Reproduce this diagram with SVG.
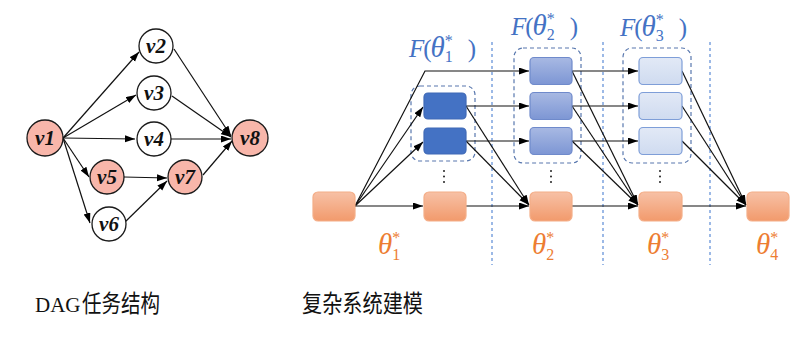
<svg xmlns="http://www.w3.org/2000/svg" width="800" height="339" viewBox="0 0 800 339">
<defs>
<marker id="ah" markerUnits="userSpaceOnUse" markerWidth="11" markerHeight="8" refX="10" refY="3.5" orient="auto">
<path d="M0,0 L10,3.5 L0,7 z" fill="#000"/>
</marker>
<linearGradient id="gOr" x1="0" y1="0" x2="0" y2="1">
<stop offset="0" stop-color="#F7C1A6"/><stop offset="1" stop-color="#F29A6C"/>
</linearGradient>
<linearGradient id="gMid" x1="0" y1="0" x2="0" y2="1">
<stop offset="0" stop-color="#A8B9E3"/><stop offset="1" stop-color="#7D96D4"/>
</linearGradient>
<linearGradient id="gLt" x1="0" y1="0" x2="0" y2="1">
<stop offset="0" stop-color="#E2E9F6"/><stop offset="1" stop-color="#CFDBF0"/>
</linearGradient>
</defs>
<style>
.c{stroke:#1a1a1a;stroke-width:1.3}
.w{fill:#fff}
.p{fill:#F8B6AA}
.vl{font-family:"Liberation Serif",serif;font-style:italic;font-weight:bold;font-size:21px;text-anchor:middle;fill:#111}
.e{stroke:#111;stroke-width:1.2;fill:none;marker-end:url(#ah)}
.or{fill:url(#gOr);stroke:#F4AE88;stroke-width:1.2}
.dk{fill:#4472C4;stroke:#3F69B6;stroke-width:1.2}
.md{fill:url(#gMid);stroke:#6F8ACB;stroke-width:1.2}
.lt{fill:url(#gLt);stroke:#7E9ED8;stroke-width:1.2}
.grp{fill:none;stroke:#5877AE;stroke-width:1.2;stroke-dasharray:4 3}
.vd{stroke:#5B8BD6;stroke-width:1.2;stroke-dasharray:3 3}
.m{font-family:"Liberation Serif",serif;font-style:italic;font-size:25px}
.th{font-size:29px}
.n{font-style:normal}
.s{font-style:normal;font-size:16px}
.fb{fill:#4472C4}
.fo{fill:#ED7D31}
.dot{fill:#222}
.cap{font-family:"Noto Sans CJK SC","Liberation Serif",serif;fill:#111;font-size:24px}
.lat{font-family:"Liberation Serif",serif;font-size:21px;fill:#111}
</style>

<g id="dag-edges">
<line class="e" x1="63" y1="138" x2="139" y2="52"/>
<line class="e" x1="63" y1="138" x2="136" y2="95"/>
<line class="e" x1="63" y1="138" x2="135" y2="139"/>
<line class="e" x1="63" y1="138" x2="89" y2="177"/>
<line class="e" x1="63" y1="138" x2="90" y2="223"/>
<line class="e" x1="174" y1="49" x2="231" y2="136"/>
<line class="e" x1="172" y1="96" x2="231" y2="137"/>
<line class="e" x1="171" y1="139" x2="231" y2="139"/>
<line class="e" x1="203" y1="175" x2="232" y2="141"/>
<line class="e" x1="124" y1="177" x2="167" y2="178"/>
<line class="e" x1="125" y1="222" x2="167" y2="181"/>
</g>

<g id="v1"><circle class="c p" cx="45" cy="138" r="18"/><text class="vl" x="45" y="145">v1</text></g>
<g id="v2"><circle class="c w" cx="156" cy="46" r="17"/><text class="vl" x="156" y="53">v2</text></g>
<g id="v3"><circle class="c w" cx="154" cy="93" r="17"/><text class="vl" x="154" y="100">v3</text></g>
<g id="v4"><circle class="c w" cx="154" cy="139" r="17"/><text class="vl" x="154" y="146">v4</text></g>
<g id="v5"><circle class="c p" cx="107" cy="177" r="17"/><text class="vl" x="107" y="184">v5</text></g>
<g id="v6"><circle class="c w" cx="109" cy="224" r="17"/><text class="vl" x="109" y="231">v6</text></g>
<g id="v7"><circle class="c p" cx="185" cy="177" r="17"/><text class="vl" x="185" y="184">v7</text></g>
<g id="v8"><circle class="c p" cx="250" cy="138" r="18"/><text class="vl" x="250" y="145">v8</text></g>

<g id="dividers">
<line class="vd" x1="492" y1="42" x2="492" y2="265"/>
<line class="vd" x1="603" y1="42" x2="603" y2="265"/>
<line class="vd" x1="710" y1="42" x2="710" y2="265"/>
</g>

<g id="groups">
<rect class="grp" x="411" y="86" width="64" height="75" rx="9"/>
<rect class="grp" x="514" y="48" width="67" height="115" rx="9"/>
<rect class="grp" x="623" y="48" width="68" height="115" rx="9"/>
</g>

<g id="connectors">
<line class="e" x1="355" y1="206" x2="423" y2="206"/>
<line class="e" x1="355" y1="206" x2="423" y2="107"/>
<line class="e" x1="355" y1="206" x2="423" y2="142"/>
<polyline class="e" points="355,206 425,71 529,71"/>
<line class="e" x1="466" y1="106" x2="529" y2="106"/>
<line class="e" x1="466" y1="141" x2="529" y2="141"/>
<line class="e" x1="466" y1="106" x2="529" y2="205"/>
<line class="e" x1="466" y1="141" x2="529" y2="205"/>
<line class="e" x1="466" y1="206" x2="529" y2="206"/>
<line class="e" x1="572" y1="71" x2="638" y2="71"/>
<line class="e" x1="572" y1="106" x2="638" y2="106"/>
<line class="e" x1="572" y1="141" x2="638" y2="141"/>
<line class="e" x1="572" y1="71" x2="638" y2="205"/>
<line class="e" x1="572" y1="106" x2="638" y2="205"/>
<line class="e" x1="572" y1="141" x2="638" y2="205"/>
<line class="e" x1="572" y1="206" x2="638" y2="206"/>
<line class="e" x1="682" y1="71" x2="746" y2="205"/>
<line class="e" x1="682" y1="106" x2="746" y2="205"/>
<line class="e" x1="682" y1="141" x2="746" y2="205"/>
<line class="e" x1="682" y1="206" x2="746" y2="206"/>
</g>

<g id="o1"><rect class="or" x="313" y="192" width="42" height="29" rx="5"/></g>
<g id="o2"><rect class="or" x="424" y="192" width="42" height="29" rx="5"/></g>
<g id="o3"><rect class="or" x="530" y="192" width="42" height="29" rx="5"/></g>
<g id="o4"><rect class="or" x="639" y="192" width="43" height="29" rx="5"/></g>
<g id="o5"><rect class="or" x="747" y="192" width="42" height="29" rx="5"/></g>

<g id="b1a"><rect class="dk" x="424" y="93" width="42" height="26" rx="4"/></g>
<g id="b1b"><rect class="dk" x="424" y="128" width="42" height="26" rx="4"/></g>
<g id="b2a"><rect class="md" x="530" y="57.5" width="42" height="27" rx="4"/></g>
<g id="b2b"><rect class="md" x="530" y="92.5" width="42" height="27" rx="4"/></g>
<g id="b2c"><rect class="md" x="530" y="127.5" width="42" height="27" rx="4"/></g>
<g id="b3a"><rect class="lt" x="639" y="57.5" width="43" height="27" rx="4"/></g>
<g id="b3b"><rect class="lt" x="639" y="92.5" width="43" height="27" rx="4"/></g>
<g id="b3c"><rect class="lt" x="639" y="127.5" width="43" height="27" rx="4"/></g>

<g id="dots">
<circle class="dot" cx="444" cy="171" r="1"/><circle class="dot" cx="444" cy="176.5" r="1"/><circle class="dot" cx="444" cy="182" r="1"/>
<circle class="dot" cx="551" cy="171" r="1"/><circle class="dot" cx="551" cy="176.5" r="1"/><circle class="dot" cx="551" cy="182" r="1"/>
<circle class="dot" cx="660" cy="171" r="1"/><circle class="dot" cx="660" cy="176.5" r="1"/><circle class="dot" cx="660" cy="182" r="1"/>
</g>

<g id="F1"><text class="m fb" x="409" y="57">F<tspan class="n" dx="-1">(</tspan><tspan class="th" dx="-1">θ</tspan><tspan class="s" dx="0" dy="-11">*</tspan><tspan class="s" dx="-8" dy="16">1</tspan><tspan class="n" dx="15" dy="-5">)</tspan></text></g>
<g id="F2"><text class="m fb" x="511" y="35">F<tspan class="n" dx="-1">(</tspan><tspan class="th" dx="-1">θ</tspan><tspan class="s" dx="0" dy="-11">*</tspan><tspan class="s" dx="-8" dy="16">2</tspan><tspan class="n" dx="15" dy="-5">)</tspan></text></g>
<g id="F3"><text class="m fb" x="620" y="36">F<tspan class="n" dx="-1">(</tspan><tspan class="th" dx="-1">θ</tspan><tspan class="s" dx="0" dy="-11">*</tspan><tspan class="s" dx="-8" dy="16">3</tspan><tspan class="n" dx="15" dy="-5">)</tspan></text></g>

<g id="t1"><text class="m th fo" x="378" y="254">θ<tspan class="s" dx="0" dy="-11">*</tspan><tspan class="s" dx="-8" dy="17">1</tspan></text></g>
<g id="t2"><text class="m th fo" x="532" y="254">θ<tspan class="s" dx="0" dy="-11">*</tspan><tspan class="s" dx="-8" dy="17">2</tspan></text></g>
<g id="t3"><text class="m th fo" x="647" y="254">θ<tspan class="s" dx="0" dy="-11">*</tspan><tspan class="s" dx="-8" dy="17">3</tspan></text></g>
<g id="t4"><text class="m th fo" x="756" y="254">θ<tspan class="s" dx="0" dy="-11">*</tspan><tspan class="s" dx="-8" dy="17">4</tspan></text></g>

<g id="captions">
<text class="lat" x="35" y="312">DAG</text>
<text class="cap" x="82" y="312" textLength="78" lengthAdjust="spacingAndGlyphs">任务结构</text>
<text class="cap" x="302" y="312" textLength="121" lengthAdjust="spacingAndGlyphs">复杂系统建模</text>
</g>
</svg>
